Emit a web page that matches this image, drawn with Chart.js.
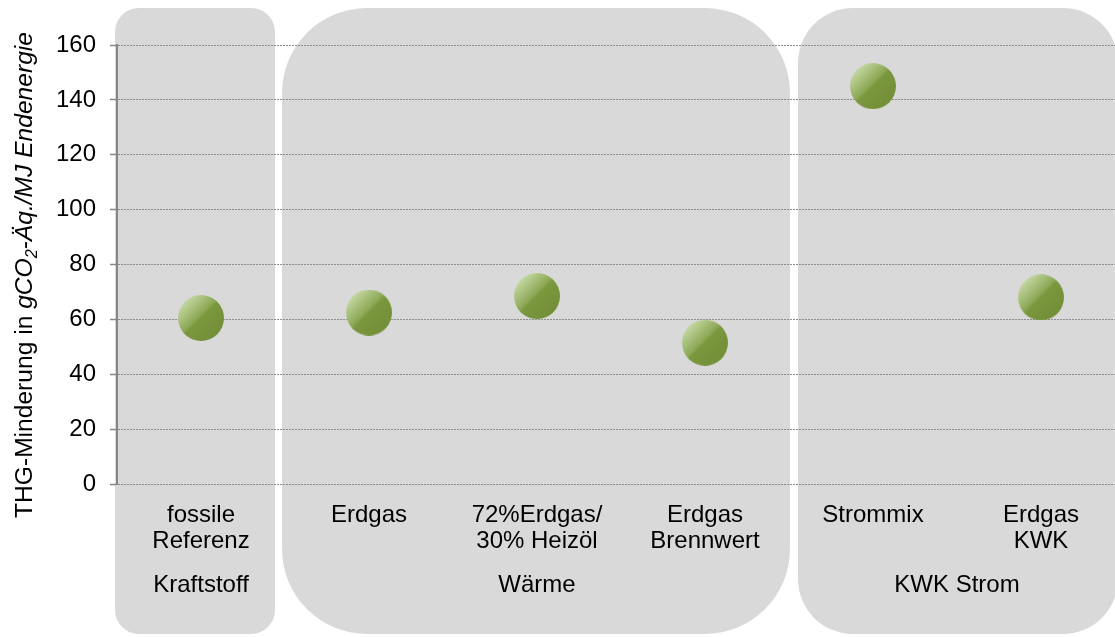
<!DOCTYPE html>
<html>
<head>
<meta charset="utf-8">
<script src="https://cdn.jsdelivr.net/npm/chart.js@4"></script>
<style>
  html, body { margin: 0; padding: 0; background: #fff; overflow: hidden; }
  #wrap { width: 1125px; height: 637px; }
</style>
</head>
<body>
<div id="wrap"><canvas id="chart" width="1125" height="637"></canvas></div>
<script>
// data
const categories = [
  ["fossile", "Referenz"],
  ["Erdgas"],
  ["72%Erdgas/", "30% Heizöl"],
  ["Erdgas", "Brennwert"],
  ["Strommix"],
  ["Erdgas", "KWK"]
];
const values = [60.5, 62.5, 68.5, 51.5, 145, 68];
const yTicks = [0, 20, 40, 60, 80, 100, 120, 140, 160];
const groupNames = ["Kraftstoff", "Wärme", "KWK Strom"];
const groupFirst = [0, 1, 4];
const groupLast = [0, 3, 5];

const FONT = "'Liberation Sans', Arial, sans-serif";
const GRID = '#8c8c8c';

// green ball used as point style
function ball(d) {
  const c = document.createElement('canvas');
  c.width = c.height = d;
  const g = c.getContext('2d');
  const gr = g.createLinearGradient(d * 0.15, d * 0.15, d * 0.85, d * 0.85);
  gr.addColorStop(0, '#c3d6a0');
  gr.addColorStop(0.44, '#8ca855');
  gr.addColorStop(0.5, '#7a983e');
  gr.addColorStop(1, '#738f38');
  g.fillStyle = gr;
  g.beginPath();
  g.arc(d / 2, d / 2, d / 2, 0, Math.PI * 2);
  g.fill();
  return c;
}

// grey rounded panels behind each group + group names
const boxInsetL = [-2, -3, 9];
const boxInsetR = [10, -1, 7];
const boxRadius = [24, 85, 55];
const groups = {
  id: 'groups',
  beforeDraw(chart) {
    const ctx = chart.ctx, x = chart.scales.x;
    ctx.save();
    ctx.fillStyle = '#d9d9d9';
    groupNames.forEach((n, i) => {
      const l = x.getPixelForValue(groupFirst[i] - 0.5) + boxInsetL[i];
      const r = x.getPixelForValue(groupLast[i] + 0.5) - boxInsetR[i];
      ctx.beginPath();
      ctx.roundRect(l, 8, r - l, 626, boxRadius[i]);
      ctx.fill();
    });
    ctx.restore();
  },
  afterDraw(chart) {
    const ctx = chart.ctx, x = chart.scales.x;
    ctx.save();
    ctx.fillStyle = '#000';
    ctx.font = '24px ' + FONT;
    ctx.textAlign = 'center';
    ctx.textBaseline = 'middle';
    groupNames.forEach((n, i) => {
      const c = (x.getPixelForValue(groupFirst[i]) + x.getPixelForValue(groupLast[i])) / 2;
      ctx.fillText(n, c, 585);
    });

    // y axis title with italic unit and subscript
    const parts = [
      { t: 'THG-Minderung in ', f: '24.6px ', dy: 0 },
      { t: 'gCO', f: 'italic 24.6px ', dy: 0 },
      { t: '2', f: 'italic 16px ', dy: 5 },
      { t: '-Äq./MJ Endenergie', f: 'italic 24.6px ', dy: 0 }
    ];
    let total = 0;
    parts.forEach(p => { ctx.font = p.f + FONT; p.w = ctx.measureText(p.t).width; total += p.w; });
    ctx.translate(32, 275);
    ctx.rotate(-Math.PI / 2);
    ctx.textAlign = 'left';
    ctx.textBaseline = 'alphabetic';
    let px = -total / 2;
    parts.forEach(p => {
      ctx.font = p.f + FONT;
      ctx.fillText(p.t, px, p.dy);
      px += p.w;
    });
    ctx.restore();
  }
};

new Chart(document.getElementById('chart'), {
  type: 'line',
  data: {
    labels: categories,
    datasets: [{
      data: values,
      showLine: false,
      pointStyle: ball(46),
      pointRadius: 23,
      pointHoverRadius: 23,
      clip: false
    }]
  },
  options: {
    responsive: false,
    animation: false,
    layout: { autoPadding: false, padding: { top: 45, left: 0, right: 0, bottom: 0 } },
    plugins: { legend: { display: false }, tooltip: { enabled: false } },
    scales: {
      x: {
        offset: true,
        grid: { display: false },
        border: { display: false },
        ticks: {
          color: '#000',
          padding: 10,
          maxRotation: 0,
          autoSkip: false,
          font: { family: FONT, size: 24, lineHeight: 1.08 }
        },
        afterFit(s) { s.height = 153; s.paddingLeft = 0; s.paddingRight = 0; }
      },
      y: {
        min: 0,
        max: 160,
        afterBuildTicks(s) { s.ticks = yTicks.map(v => ({ value: v })); },
        grid: {
          color: GRID,
          lineWidth: 1,
          tickLength: 7,
          tickColor: '#868686',
          tickBorderDash: [],
          tickWidth: 1.5
        },
        border: { display: true, color: '#868686', width: 2, dash: [2, 1] },
        ticks: {
          color: '#000',
          padding: 14,
          font: { family: FONT, size: 24 }
        },
        afterFit(s) { s.width = 117; s.paddingTop = 0; s.paddingBottom = 0; }
      }
    }
  },
  plugins: [groups]
});
</script>
</body>
</html>
